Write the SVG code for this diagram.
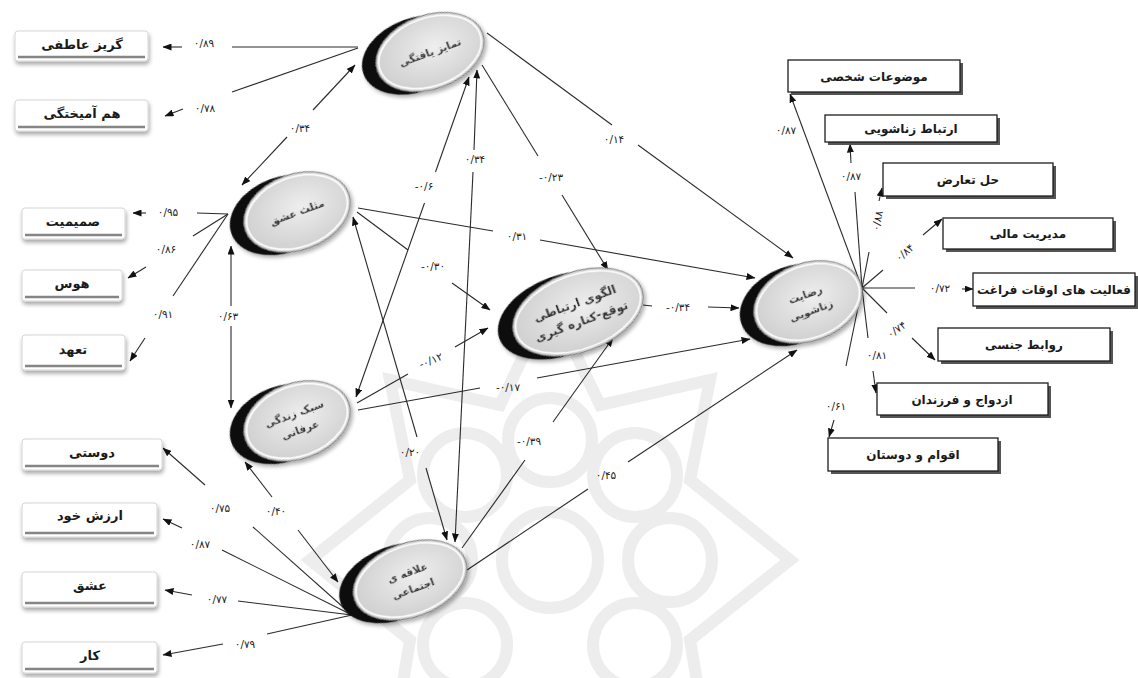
<svg xmlns="http://www.w3.org/2000/svg" width="1138" height="678" viewBox="0 0 1138 678">
<style>
.ln{stroke:#2a2a2a;stroke-width:1.1;fill:none}
.ar{marker-end:url(#ah)}
.as{marker-start:url(#ah)}
.lb{font-family:'DejaVu Sans',sans-serif;font-size:10.5px;fill:#222;text-anchor:middle}
.bx{font-family:'DejaVu Sans',sans-serif;font-size:13px;font-weight:bold;fill:#1a1a1a;text-anchor:middle}
.rb{font-family:'DejaVu Sans',sans-serif;font-size:12px;font-weight:bold;fill:#1a1a1a;text-anchor:middle}
.nt{font-family:'DejaVu Sans',sans-serif;font-size:10.5px;font-weight:bold;fill:#333;text-anchor:middle}
.lbox{fill:#fff;stroke:#d6d6d6;stroke-width:1}
.lbar{stroke:#858585;stroke-width:2.5}
.rbox{fill:#fff;stroke:#1e1e1e;stroke-width:1.3}
.rsh{fill:#555}
.dk{fill:#0d0d0d}
.lt{fill:url(#eg);stroke:#7a7a7a;stroke-width:1}
.rim{fill:none;stroke:#fff;stroke-width:1.6}
.wm{fill:none;stroke:#ededed;stroke-width:12}
</style>
<defs>
<marker id="ah" markerUnits="userSpaceOnUse" markerWidth="9" markerHeight="7" refX="8.5" refY="3.5" orient="auto-start-reverse">
<path d="M0,0 L9,3.5 L0,7 z" fill="#111"/>
</marker>
<radialGradient id="eg" cx="0.55" cy="0.45" r="0.6">
<stop offset="0" stop-color="#eeeeee"/>
<stop offset="1" stop-color="#cdcdcd"/>
</radialGradient>
<filter id="sh" x="-20%" y="-30%" width="140%" height="170%">
<feGaussianBlur in="SourceAlpha" stdDeviation="2"/>
<feOffset dx="1" dy="3"/>
<feComponentTransfer><feFuncA type="linear" slope="0.35"/></feComponentTransfer>
<feMerge><feMergeNode/><feMergeNode in="SourceGraphic"/></feMerge>
</filter>
</defs>
<rect width="1138" height="678" fill="#fff"/>

<g id="watermark">
<circle class="wm" cx="550" cy="560" r="48"/>
<circle class="wm" cx="550" cy="440" r="42"/>
<circle class="wm" cx="635" cy="475" r="42"/>
<circle class="wm" cx="670" cy="560" r="42"/>
<circle class="wm" cx="635" cy="645" r="42"/>
<circle class="wm" cx="465" cy="475" r="42"/>
<circle class="wm" cx="430" cy="560" r="42"/>
<circle class="wm" cx="465" cy="645" r="42"/>
<path class="wm" d="M550,300 L600,405 L710,380 L690,480 L790,560 L690,640 L700,700 M550,300 L500,405 L390,380 L410,480 L310,560 L410,640 L400,700"/>
</g>

<g id="connectors">
<line class="ln" x1="358" y1="47" x2="232" y2="47"/>
<line class="ln ar" x1="182" y1="47" x2="163" y2="47"/>
<text class="lb" x="204" y="47">۰/۸۹</text>
<line class="ln" x1="358" y1="48" x2="232" y2="92"/>
<line class="ln ar" x1="183" y1="109" x2="165" y2="116"/>
<text class="lb" x="205" y="112">۰/۷۸</text>
<line class="ln as" x1="242" y1="185" x2="287" y2="137"/>
<line class="ln ar" x1="313" y1="110" x2="355" y2="65"/>
<text class="lb" x="300" y="132">۰/۳۴</text>
<line class="ln" x1="228" y1="214" x2="197" y2="213"/>
<line class="ln ar" x1="146" y1="213" x2="133" y2="213"/>
<text class="lb" x="168" y="216">۰/۹۵</text>
<line class="ln" x1="228" y1="214" x2="193" y2="236"/>
<line class="ln ar" x1="146" y1="267" x2="128" y2="278"/>
<text class="lb" x="166" y="253">۰/۸۶</text>
<line class="ln" x1="228" y1="214" x2="173" y2="296"/>
<line class="ln ar" x1="145" y1="338" x2="130" y2="361"/>
<text class="lb" x="163" y="318">۰/۹۱</text>
<line class="ln as" x1="231" y1="246" x2="231" y2="306"/>
<line class="ln ar" x1="231" y1="326" x2="231" y2="408"/>
<text class="lb" x="228" y="320">۰/۶۳</text>
<line class="ln as" x1="356" y1="397" x2="424.5" y2="203"/>
<line class="ln ar" x1="435.5" y1="172" x2="469" y2="77"/>
<text class="lb" x="424" y="190">-۰/۶</text>
<line class="ln as" x1="477" y1="70" x2="474" y2="150"/>
<line class="ln ar" x1="473" y1="172" x2="455" y2="542"/>
<text class="lb" x="475" y="163">۰/۳۴</text>
<line class="ln as" x1="353" y1="217" x2="417" y2="437"/>
<line class="ln ar" x1="426" y1="468" x2="447" y2="540"/>
<text class="lb" x="410" y="456">۰/۲۰</text>
<line class="ln ar" x1="272" y1="497" x2="245" y2="462"/>
<line class="ln ar" x1="298" y1="530" x2="338" y2="582"/>
<text class="lb" x="276" y="515">۰/۴۰</text>
<line class="ln" x1="482" y1="65" x2="538" y2="156"/>
<line class="ln ar" x1="562" y1="195" x2="608" y2="270"/>
<text class="lb" x="551" y="181">-۰/۲۳</text>
<line class="ln" x1="487" y1="33" x2="612" y2="125"/>
<line class="ln ar" x1="638" y1="145" x2="793" y2="258"/>
<text class="lb" x="614" y="143">۰/۱۴</text>
<line class="ln" x1="358" y1="208" x2="493" y2="231"/>
<line class="ln ar" x1="540" y1="240" x2="755" y2="278"/>
<text class="lb" x="517" y="240">۰/۳۱</text>
<line class="ln" x1="357" y1="212" x2="408" y2="250"/>
<line class="ln ar" x1="452" y1="283" x2="490" y2="310"/>
<text class="lb" x="433" y="270">-۰/۳۰</text>
<line class="ln" x1="357" y1="403" x2="408" y2="374"/>
<line class="ln ar" x1="455" y1="347" x2="488" y2="328"/>
<text class="lb" x="431" y="364" transform="rotate(-22 431 361)">-۰/۱۲</text>
<line class="ln" x1="358" y1="410" x2="480" y2="388"/>
<line class="ln ar" x1="537" y1="378" x2="750" y2="339"/>
<text class="lb" x="508" y="391">-۰/۱۷</text>
<line class="ln" x1="643" y1="305" x2="652" y2="306"/>
<line class="ln ar" x1="708" y1="307" x2="739" y2="308"/>
<text class="lb" x="678" y="311">-۰/۳۴</text>
<line class="ln" x1="462" y1="548" x2="525" y2="460"/>
<line class="ln ar" x1="553" y1="422" x2="613" y2="338"/>
<text class="lb" x="529" y="445">-۰/۳۹</text>
<line class="ln" x1="467" y1="570" x2="588" y2="489"/>
<line class="ln ar" x1="628" y1="462" x2="797" y2="350"/>
<text class="lb" x="606" y="479">۰/۴۵</text>
<line class="ln" x1="352" y1="615" x2="253" y2="527"/>
<line class="ln ar" x1="205" y1="485" x2="163" y2="448"/>
<text class="lb" x="220" y="512">۰/۷۵</text>
<line class="ln" x1="352" y1="615" x2="222" y2="550"/>
<line class="ln ar" x1="182" y1="528" x2="163" y2="519"/>
<text class="lb" x="200" y="548">۰/۸۷</text>
<line class="ln" x1="352" y1="615" x2="238" y2="601"/>
<line class="ln ar" x1="192" y1="595" x2="165" y2="590"/>
<text class="lb" x="217" y="603">۰/۷۷</text>
<line class="ln" x1="352" y1="615" x2="267" y2="634"/>
<line class="ln ar" x1="223" y1="644" x2="163" y2="655"/>
<text class="lb" x="245" y="648">۰/۷۹</text>
<line class="ln ar" x1="862" y1="288" x2="790" y2="94"/>
<text class="lb" x="786" y="134">۰/۸۷</text>
<line class="ln" x1="862" y1="288" x2="855" y2="192"/>
<line class="ln ar" x1="851" y1="163" x2="850" y2="144"/>
<text class="lb" x="851" y="180">۰/۸۷</text>
<line class="ln" x1="862" y1="288" x2="869" y2="252"/>
<line class="ln ar" x1="879" y1="201" x2="882" y2="188"/>
<text class="lb" x="878" y="224" transform="rotate(-79 878 221)">۰/۸۸</text>
<line class="ln" x1="862" y1="288" x2="883" y2="270"/>
<line class="ln ar" x1="923" y1="235" x2="942" y2="219"/>
<text class="lb" x="905" y="256" transform="rotate(-41 905 253)">۰/۸۴</text>
<line class="ln" x1="862" y1="288" x2="915" y2="288"/>
<line class="ln ar" x1="962" y1="289" x2="973" y2="289"/>
<text class="lb" x="940" y="292">۰/۷۲</text>
<line class="ln" x1="862" y1="288" x2="887" y2="313"/>
<line class="ln ar" x1="912" y1="338" x2="935" y2="360"/>
<text class="lb" x="897" y="333" transform="rotate(-35 897 330)">۰/۷۴</text>
<line class="ln" x1="862" y1="288" x2="868" y2="338"/>
<line class="ln ar" x1="873" y1="371" x2="876" y2="393"/>
<text class="lb" x="877" y="359">۰/۸۱</text>
<line class="ln" x1="862" y1="288" x2="846" y2="366"/>
<line class="ln ar" x1="834" y1="420" x2="829" y2="437"/>
<text class="lb" x="836" y="410">۰/۶۱</text>
</g>

<g id="n-tamayoz">
<g transform="translate(430 52) rotate(-20)" filter="url(#sh)">
<ellipse class="dk" cx="-14" cy="-2" rx="56" ry="37"/>
<ellipse class="lt" cx="0" cy="0" rx="56" ry="37"/>
<ellipse class="rim" cx="0" cy="0" rx="53" ry="34"/>
<text class="nt" x="0" y="4">تمایز یافتگی</text>
</g>
</g>
<g id="n-mosalas">
<g transform="translate(297 212) rotate(-20)" filter="url(#sh)">
<ellipse class="dk" cx="-14" cy="-2" rx="55" ry="38"/>
<ellipse class="lt" cx="0" cy="0" rx="55" ry="38"/>
<ellipse class="rim" cx="0" cy="0" rx="52" ry="35"/>
<text class="nt" x="0" y="4">مثلث عشق</text>
</g>
</g>
<g id="n-sabk">
<g transform="translate(297 421) rotate(-20)" filter="url(#sh)">
<ellipse class="dk" cx="-14" cy="-2" rx="55" ry="38"/>
<ellipse class="lt" cx="0" cy="0" rx="55" ry="38"/>
<ellipse class="rim" cx="0" cy="0" rx="52" ry="35"/>
<text class="nt" x="0" y="-4">سبک زندگی</text>
<text class="nt" x="0" y="13">عرفانی</text>
</g>
</g>
<g id="n-olgoo">
<g transform="translate(578 312) rotate(-20)" filter="url(#sh)">
<ellipse class="dk" cx="-15" cy="-2" rx="68" ry="40"/>
<ellipse class="lt" cx="0" cy="0" rx="68" ry="40"/>
<ellipse class="rim" cx="0" cy="0" rx="65" ry="37"/>
<text class="nt" x="0" y="-5" style="font-size:12px">الگوی ارتباطی</text>
<text class="nt" x="0" y="14" style="font-size:12px">توقع-کناره گیری</text>
</g>
</g>
<g id="n-rezayat">
<g transform="translate(808 302) rotate(-20)" filter="url(#sh)">
<ellipse class="dk" cx="-14" cy="-2" rx="56" ry="39"/>
<ellipse class="lt" cx="0" cy="0" rx="56" ry="39"/>
<ellipse class="rim" cx="0" cy="0" rx="53" ry="36"/>
<text class="nt" x="0" y="-4">رضایت</text>
<text class="nt" x="0" y="13">زناشویی</text>
</g>
</g>
<g id="n-alaghe">
<g transform="translate(410 580) rotate(-20)" filter="url(#sh)">
<ellipse class="dk" cx="-14" cy="-2" rx="59" ry="37"/>
<ellipse class="lt" cx="0" cy="0" rx="59" ry="37"/>
<ellipse class="rim" cx="0" cy="0" rx="56" ry="34"/>
<text class="nt" x="0" y="-4">علاقه ی</text>
<text class="nt" x="0" y="13">اجتماعی</text>
</g>
</g>

<g id="i-goriz"><rect class="lbox" x="15" y="31" width="133" height="30" rx="3" filter="url(#sh)"/><line class="lbar" x1="18" y1="57" x2="145" y2="57"/><text class="bx" x="82" y="49">گریز عاطفی</text></g>
<g id="i-ham"><rect class="lbox" x="15" y="100" width="133" height="31" rx="3" filter="url(#sh)"/><line class="lbar" x1="18" y1="127" x2="145" y2="127"/><text class="bx" x="82" y="118">هم آمیختگی</text></g>
<g id="i-samimiat"><rect class="lbox" x="22" y="208" width="103" height="31" rx="3" filter="url(#sh)"/><line class="lbar" x1="25" y1="235" x2="122" y2="235"/><text class="bx" x="73" y="226">صمیمیت</text></g>
<g id="i-havas"><rect class="lbox" x="22" y="270" width="100" height="31" rx="3" filter="url(#sh)"/><line class="lbar" x1="25" y1="297" x2="119" y2="297"/><text class="bx" x="72" y="288">هوس</text></g>
<g id="i-taahod"><rect class="lbox" x="22" y="335" width="103" height="35" rx="3" filter="url(#sh)"/><line class="lbar" x1="25" y1="366" x2="122" y2="366"/><text class="bx" x="73" y="354">تعهد</text></g>
<g id="i-doosti"><rect class="lbox" x="22" y="439" width="140" height="31" rx="3" filter="url(#sh)"/><line class="lbar" x1="25" y1="466" x2="159" y2="466"/><text class="bx" x="92" y="457">دوستی</text></g>
<g id="i-arzesh"><rect class="lbox" x="22" y="503" width="135" height="34" rx="3" filter="url(#sh)"/><line class="lbar" x1="25" y1="533" x2="154" y2="533"/><text class="bx" x="90" y="520">ارزش خود</text></g>
<g id="i-eshgh"><rect class="lbox" x="22" y="572" width="135" height="35" rx="3" filter="url(#sh)"/><line class="lbar" x1="25" y1="603" x2="154" y2="603"/><text class="bx" x="90" y="590">عشق</text></g>
<g id="i-kar"><rect class="lbox" x="22" y="642" width="135" height="31" rx="3" filter="url(#sh)"/><line class="lbar" x1="25" y1="669" x2="154" y2="669"/><text class="bx" x="90" y="660">کار</text></g>

<g id="i-mozooat"><rect class="rsh" x="791" y="63" width="172" height="32"/><rect class="rbox" x="788" y="60" width="172" height="32"/><text class="rb" x="874" y="81">موضوعات شخصی</text></g>
<g id="i-ertebat"><rect class="rsh" x="828" y="118" width="172" height="27"/><rect class="rbox" x="825" y="115" width="172" height="27"/><text class="rb" x="911" y="133">ارتباط زناشویی</text></g>
<g id="i-hal"><rect class="rsh" x="886" y="166" width="170" height="33"/><rect class="rbox" x="883" y="163" width="170" height="33"/><text class="rb" x="968" y="184">حل تعارض</text></g>
<g id="i-modiriat"><rect class="rsh" x="946" y="221" width="170" height="31"/><rect class="rbox" x="943" y="218" width="170" height="31"/><text class="rb" x="1028" y="238">مدیریت مالی</text></g>
<g id="i-faaliat"><rect class="rsh" x="976" y="276" width="162" height="33"/><rect class="rbox" x="973" y="273" width="162" height="33"/><text class="rb" x="1054" y="294">فعالیت های اوقات فراغت</text></g>
<g id="i-ravabet"><rect class="rsh" x="941" y="331" width="172" height="33"/><rect class="rbox" x="938" y="328" width="172" height="33"/><text class="rb" x="1024" y="349">روابط جنسی</text></g>
<g id="i-ezdevaj"><rect class="rsh" x="880" y="386" width="171" height="32"/><rect class="rbox" x="877" y="383" width="171" height="32"/><text class="rb" x="962" y="404">ازدواج و فرزندان</text></g>
<g id="i-aghvam"><rect class="rsh" x="831" y="441" width="170" height="33"/><rect class="rbox" x="828" y="438" width="170" height="33"/><text class="rb" x="913" y="459">اقوام و دوستان</text></g>
</svg>
